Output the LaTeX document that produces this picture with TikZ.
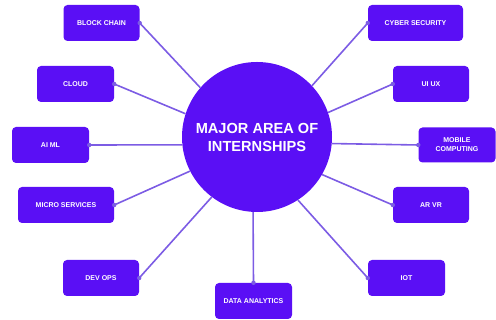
\documentclass[tikz,border=0pt]{standalone}
\usepackage{fontspec}
\setmainfont{Liberation Sans}
\usetikzlibrary{positioning}
\definecolor{areaviolet}{HTML}{5A0FF5}
\definecolor{linkviolet}{HTML}{7C5CE4}

\begin{document}
\begin{tikzpicture}[x=1pt, y=1pt,
    area/.style={rectangle, rounded corners=4pt, fill=areaviolet, text=white, minimum width=76pt, minimum height=36pt, inner sep=2pt, align=center, font=\bfseries\fontsize{7}{9}\selectfont},
    hub/.style={circle, fill=areaviolet, text=white, minimum size=150pt, inner sep=0pt, align=center, font=\bfseries\fontsize{14.6}{18}\selectfont},
    link/.style={draw=linkviolet, line width=1.6pt}
]
    \useasboundingbox (0,0) rectangle (496,320);

    % Centre
    \node[hub] (major) at (257,183) {MAJOR AREA OF\\INTERNSHIPS};

    % Left side
    \node[area] (chain) at (101.5,297) {BLOCK CHAIN};
    \node[area, minimum width=77pt] (cloud) at (75.5,236) {CLOUD};
    \node[area, minimum width=77pt] (aiml) at (50.5,175) {AI ML};
    \node[area, minimum width=96pt] (micro) at (66,115) {MICRO SERVICES};
    \node[area] (devops) at (101,42) {DEV OPS};

    % Bottom
    \node[area, minimum width=77pt] (data) at (253.5,19) {DATA ANALYTICS};

    % Right side
    \node[area, minimum width=95pt] (cyber) at (415.5,297) {CYBER SECURITY};
    \node[area] (uiux) at (431,236) {UI UX};
    \node[area, minimum width=77pt, minimum height=35pt] (mobile) at (457,175) {MOBILE\\COMPUTING};
    \node[area] (arvr) at (431,115) {AR VR};
    \node[area, minimum width=77pt] (iot) at (406.5,42) {IOT};

    % Links to the centre
    \draw[link] (chain.east) -- (major.139);
    \draw[link] (cloud.east) -- (major.162);
    \draw[link] (aiml.east) -- (major.186);
    \draw[link] (micro.east) -- (major.207);
    \draw[link] (devops.east) -- (major.233);
    \draw[link] (data.north) -- (major.267);
    \draw[link] (iot.west) -- (major.303);
    \draw[link] (arvr.west) -- (major.330);
    \draw[link] (mobile.west) -- (major.355);
    \draw[link] (uiux.west) -- (major.19);
    \draw[link] (cyber.west) -- (major.43);

    % Small dots where the links meet the boxes
    \foreach \n/\a in {chain/east, cloud/east, aiml/east, micro/east, devops/east, data/north, iot/west, arvr/west, mobile/west, uiux/west, cyber/west}
        \fill[linkviolet] (\n.\a) circle (2.2pt);
\end{tikzpicture}
\end{document}
